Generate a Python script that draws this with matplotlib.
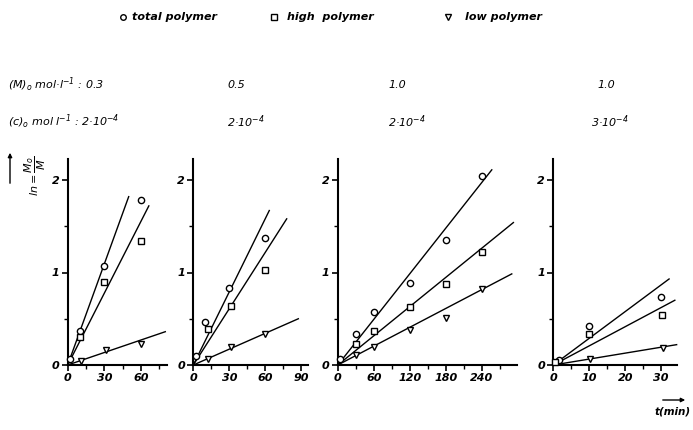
import matplotlib
matplotlib.use("Agg")
import matplotlib.pyplot as plt
from matplotlib.lines import Line2D
from matplotlib.patches import FancyArrowPatch
from matplotlib.ticker import MultipleLocator

plt.rcParams['font.family'] = ['DejaVu Sans']
plt.rcParams['mathtext.fontset'] = 'custom'
plt.rcParams['mathtext.rm'] = 'DejaVu Sans:italic'
plt.rcParams['mathtext.it'] = 'DejaVu Sans:italic'
plt.rcParams['mathtext.bf'] = 'DejaVu Sans:italic:bold'

# ---------------- data ----------------
# panel 1: [M]0 = 0.3, [C]0 = 2e-4
p1_total_t = [2, 10, 30, 60]
p1_total_y = [0.06, 0.37, 1.07, 1.78]
p1_high_t = [10, 30, 60]
p1_high_y = [0.30, 0.90, 1.34]
p1_low_t = [11, 31, 60]
p1_low_y = [0.04, 0.16, 0.23]
p1_line_end = [(50, 1.82), (66.5, 1.72), (80, 0.36)]

# panel 2: [M]0 = 0.5, [C]0 = 2e-4
p2_total_t = [2, 10, 30, 60]
p2_total_y = [0.10, 0.47, 0.83, 1.37]
p2_high_t = [12, 31, 60]
p2_high_y = [0.39, 0.64, 1.03]
p2_low_t = [12, 31, 60]
p2_low_y = [0.07, 0.19, 0.33]
p2_line_end = [(63.3, 1.67), (77.8, 1.58), (87.5, 0.50)]

# panel 3: [M]0 = 1.0, [C]0 = 2e-4
p3_total_t = [3, 30, 60, 120, 180, 240]
p3_total_y = [0.07, 0.33, 0.57, 0.89, 1.35, 2.04]
p3_high_t = [30, 60, 120, 180, 240]
p3_high_y = [0.23, 0.37, 0.625, 0.877, 1.22]
p3_low_t = [30, 60, 120, 180, 240]
p3_low_y = [0.11, 0.19, 0.38, 0.51, 0.82]
p3_line_end = [(256.5, 2.11), (292.5, 1.54), (289.8, 0.985)]

# panel 4: [M]0 = 1.0, [C]0 = 3e-4
p4_total_t = [1.7, 10, 30]
p4_total_y = [0.05, 0.42, 0.74]
p4_high_t = [0.5, 10, 30.3]
p4_high_y = [0.035, 0.335, 0.54]
p4_low_t = [10.2, 30.5]
p4_low_y = [0.065, 0.18]
p4_line_end = [(32.2, 0.93), (33.8, 0.70), (34.3, 0.22)]

M0_labels = ["(M)$_o$ mol·l$^{-1}$ : 0.3", "0.5", "1.0", "1.0"]
C0_labels = ["(c)$_o$ mol l$^{-1}$ : 2·10$^{-4}$", "2·10$^{-4}$", "2·10$^{-4}$", "3·10$^{-4}$"]
legend_labels = ["total polymer", "high  polymer", "low polymer"]

panels = [
    dict(total=(p1_total_t, p1_total_y), high=(p1_high_t, p1_high_y), low=(p1_low_t, p1_low_y),
         lines=p1_line_end, xlim=81.4, minor=15, xticks=[0, 30, 60]),
    dict(total=(p2_total_t, p2_total_y), high=(p2_high_t, p2_high_y), low=(p2_low_t, p2_low_y),
         lines=p2_line_end, xlim=95.8, minor=15, xticks=[0, 30, 60, 90]),
    dict(total=(p3_total_t, p3_total_y), high=(p3_high_t, p3_high_y), low=(p3_low_t, p3_low_y),
         lines=p3_line_end, xlim=298, minor=30, xticks=[0, 60, 120, 180, 240]),
    dict(total=(p4_total_t, p4_total_y), high=(p4_high_t, p4_high_y), low=(p4_low_t, p4_low_y),
         lines=p4_line_end, xlim=34.4, minor=5, xticks=[0, 10, 20, 30]),
]

# ---------------- layout (pixels) ----------------
W, H = 693, 430
fig = plt.figure(figsize=(W / 100, H / 100), dpi=100)

def fx(x):
    return x / W

def fy(y):
    return 1 - y / H

ax_pix = [(67.7, 99.3), (193.3, 115.0), (337.8, 178.9), (553.3, 123.7)]
y_bottom, y_top = 365, 159
ymax = (y_bottom - y_top) / 92.5

tick_font = dict(style='italic', weight='bold', size=8)

for (left, width), p in zip(ax_pix, panels):
    ax = fig.add_axes([fx(left), fy(y_bottom), width / W, (y_bottom - y_top) / H])
    ax.set_xlim(0, p['xlim'])
    ax.set_ylim(0, ymax)
    for s in ['top', 'right']:
        ax.spines[s].set_visible(False)
    for s in ['left', 'bottom']:
        ax.spines[s].set_linewidth(1.5)
    ax.set_xticks(p['xticks'])
    ax.xaxis.set_minor_locator(MultipleLocator(p['minor']))
    ax.set_yticks([0, 1, 2])
    ax.yaxis.set_minor_locator(MultipleLocator(0.5))
    ax.tick_params(which='major', length=4, width=1.2, direction='out', pad=2)
    ax.tick_params(which='minor', length=3, width=1.0, direction='out')
    ax.set_xticklabels([str(v) for v in p['xticks']], **tick_font)
    ax.set_yticklabels(['0', '1', '2'], **tick_font)

    for (te, ye) in p['lines']:
        ax.plot([0, te], [0, ye], color='black', lw=1.0, clip_on=False)
    ax.plot(*p['total'], linestyle='none', marker='o', ms=4.5, mfc='white', mec='black', mew=1.0, clip_on=False, zorder=3)
    ax.plot(*p['high'], linestyle='none', marker='s', ms=4.2, mfc='white', mec='black', mew=1.0, clip_on=False, zorder=3)
    ax.plot(*p['low'], linestyle='none', marker='v', ms=4.8, mfc='white', mec='black', mew=1.0, clip_on=False, zorder=3)

# ---------------- header text ----------------
hdr = dict(style='italic', size=8, va='center', ha='left')
m0_x = [8, 227, 388, 597]
c0_x = [8, 227, 388, 591]
for x, t in zip(m0_x, M0_labels):
    fig.text(fx(x), fy(85), t, **hdr)
for x, t in zip(c0_x, C0_labels):
    fig.text(fx(x), fy(122), t, **hdr)

# ---------------- legend ----------------
leg_y = 17
markers = ['o', 's', 'v']
mx = [123, 274, 448]
tx = [132, 287, 465]
for m, x, t_x, lab in zip(markers, mx, tx, legend_labels):
    fig.add_artist(Line2D([fx(x)], [fy(leg_y)], transform=fig.transFigure, marker=m,
                          ms=4.0, mfc='white', mec='black', mew=1.0, linestyle='none'))
    fig.text(fx(t_x), fy(leg_y), lab, style='italic', weight='bold', size=8, va='center', ha='left')

# ---------------- axis labels ----------------
fig.text(fx(35), fy(176), r'$ln = \dfrac{M_o}{M}$', rotation=90, size=8, ha='center', va='center')
fig.add_artist(FancyArrowPatch((fx(10), fy(186)), (fx(10), fy(150)), transform=fig.transFigure,
                               arrowstyle='-|>', mutation_scale=6, lw=1.0, color='black'))

fig.add_artist(FancyArrowPatch((fx(660), fy(400)), (fx(688), fy(400)), transform=fig.transFigure,
                               arrowstyle='-|>', mutation_scale=6, lw=1.0, color='black'))
fig.text(fx(691), fy(411), 't(min)', style='italic', weight='bold', size=7.5, ha='right', va='center')

fig.savefig('out.png', dpi=100)
